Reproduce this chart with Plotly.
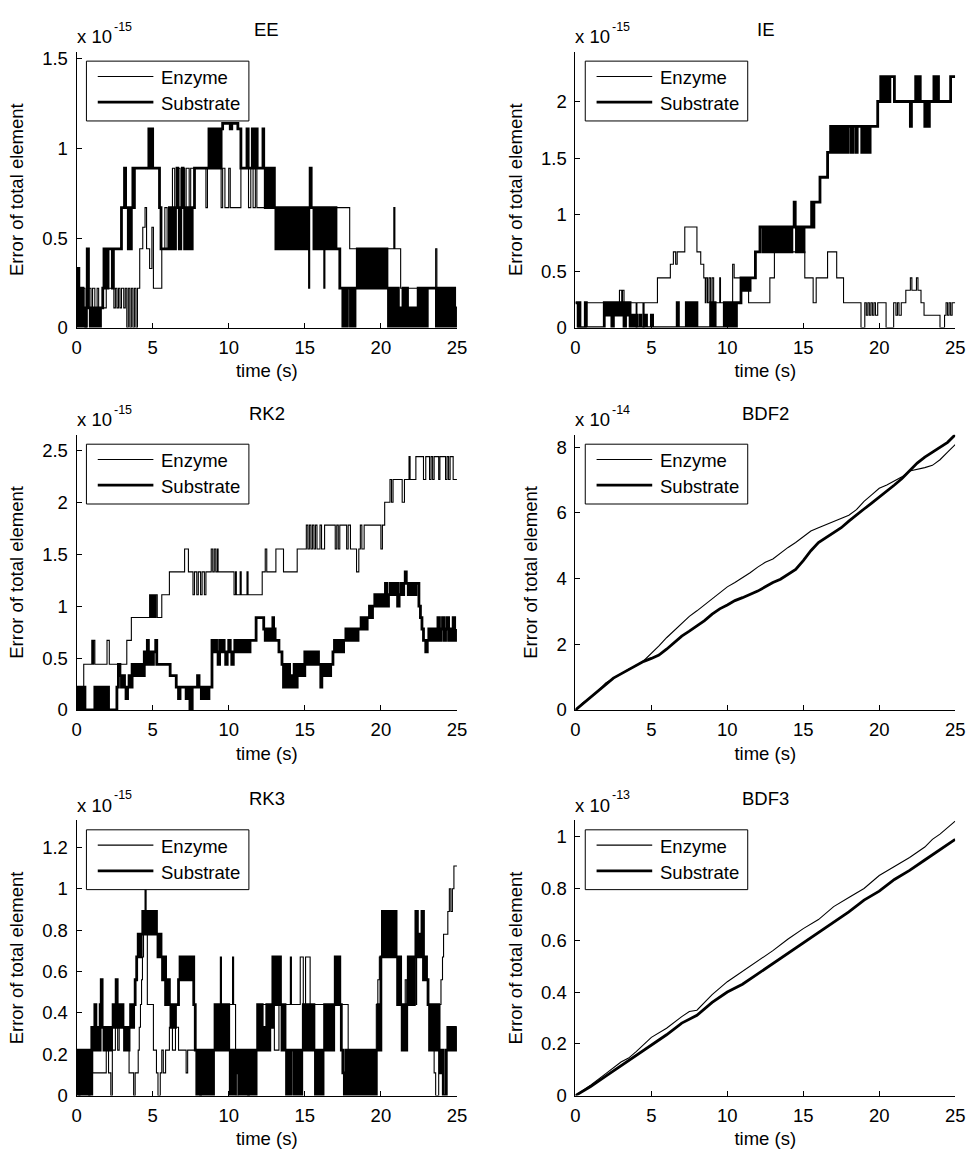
import plotly.graph_objects as go

W, H = 977, 1158

# Error of total element vs time, each series as (time s, value) step points.
# Values are in the units of the multiplier printed above each panel.

# ---------- EE (x 1e-15) ----------
EE_ENZYME = [
    (0.00, 0.22), (0.08, 0.33), (0.15, 0.22), (0.35, 0.11), (0.45, 0.22), (0.55, 0.00), (0.70, 0.11),
    (0.80, 0.22), (0.95, 0.11), (1.05, 0.22), (1.20, 0.11), (1.35, 0.22), (1.45, 0.11), (1.95, 0.22),
    (2.45, 0.11), (2.55, 0.22), (2.65, 0.11), (2.75, 0.22), (2.85, 0.11), (2.95, 0.22), (3.10, 0.11),
    (3.20, 0.22), (3.30, 0.00), (3.40, 0.22), (3.50, 0.00), (3.60, 0.22), (3.70, 0.00), (3.80, 0.22),
    (3.90, 0.00), (4.00, 0.22), (4.15, 0.44), (4.35, 0.56), (4.50, 0.67), (4.60, 0.44), (4.80, 0.33),
    (4.95, 0.56), (5.05, 0.22), (5.60, 0.44), (5.80, 0.67), (5.95, 0.44), (6.05, 0.67), (6.30, 0.89),
    (6.45, 0.67), (6.60, 0.89), (6.80, 0.67), (6.90, 0.89), (7.10, 0.67), (7.20, 0.89), (7.40, 0.67),
    (7.50, 0.89), (8.50, 0.67), (8.60, 0.89), (9.50, 0.67), (9.60, 0.89), (9.75, 0.67), (10.00, 0.89),
    (10.10, 0.67), (10.80, 0.89), (11.30, 0.67), (11.45, 0.89), (11.60, 0.67), (11.75, 0.89),
    (11.85, 0.67), (15.25, 0.22), (15.32, 0.67), (16.25, 0.22), (16.32, 0.67), (17.95, 0.44),
    (20.85, 0.67), (20.92, 0.44), (21.30, 0.22), (23.60, 0.44), (23.68, 0.22), (24.90, 0.11),
    (25.00, 0.11),
]
EE_SUBSTRATE = [
    (0.00, 0.22), (0.05, 0.00), (0.10, 0.33), (0.15, 0.00), (0.20, 0.22), (0.28, 0.00), (0.35, 0.22),
    (0.42, 0.11), (0.50, 0.00), (0.60, 0.11), (0.70, 0.44), (0.78, 0.11), (0.90, 0.00), (0.97, 0.11),
    (1.10, 0.00), (1.17, 0.11), (1.30, 0.00), (1.37, 0.11), (1.50, 0.00), (1.57, 0.11), (1.72, 0.22),
    (1.80, 0.44), (1.87, 0.22), (1.94, 0.44), (2.00, 0.22), (2.07, 0.44), (2.35, 0.22), (2.42, 0.44),
    (2.95, 0.67), (3.15, 0.89), (3.22, 0.67), (3.40, 0.44), (3.47, 0.67), (3.55, 0.44), (3.60, 0.67),
    (3.70, 0.89), (3.75, 0.67), (3.80, 0.89), (4.75, 1.11), (4.80, 0.89), (4.85, 1.11), (4.90, 0.89),
    (4.95, 1.11), (5.00, 0.89), (5.45, 0.67), (5.55, 0.44), (6.10, 0.67), (6.20, 0.44), (6.30, 0.67),
    (6.40, 0.44), (6.50, 0.67), (6.60, 0.89), (6.65, 0.67), (6.75, 0.44), (6.85, 0.67), (6.95, 0.89),
    (7.00, 0.67), (7.10, 0.44), (7.20, 0.67), (7.30, 0.44), (7.40, 0.67), (7.50, 0.44), (7.60, 0.67),
    (7.75, 0.89), (8.70, 1.11), (8.80, 0.89), (8.90, 1.11), (9.00, 0.89), (9.10, 1.11), (9.20, 0.89),
    (9.30, 1.11), (9.40, 0.89), (9.50, 1.11), (9.60, 1.14), (10.10, 1.11), (10.20, 1.14), (10.60, 1.11),
    (10.80, 0.89), (11.20, 1.11), (11.28, 0.89), (11.55, 1.11), (11.62, 0.89), (11.80, 1.11),
    (11.87, 0.89), (12.25, 1.11), (12.30, 0.89), (12.40, 0.67), (12.50, 0.89), (12.60, 0.67),
    (12.70, 0.89), (12.80, 0.67), (12.90, 0.89), (13.00, 0.67), (13.10, 0.44), (13.20, 0.67),
    (13.30, 0.44), (13.40, 0.67), (13.50, 0.44), (13.60, 0.67), (13.70, 0.44), (13.80, 0.67),
    (13.90, 0.44), (14.00, 0.67), (14.10, 0.44), (14.20, 0.67), (14.30, 0.44), (14.40, 0.67),
    (14.50, 0.44), (14.60, 0.67), (14.70, 0.44), (14.80, 0.67), (14.90, 0.44), (15.00, 0.67),
    (15.10, 0.44), (15.20, 0.67), (15.35, 0.89), (15.42, 0.67), (15.60, 0.44), (15.70, 0.67),
    (15.80, 0.44), (15.90, 0.67), (16.00, 0.44), (16.10, 0.67), (16.20, 0.44), (16.30, 0.67),
    (16.40, 0.44), (16.50, 0.67), (16.65, 0.44), (16.75, 0.67), (16.85, 0.44), (16.95, 0.67),
    (17.05, 0.44), (17.30, 0.22), (17.50, 0.00), (17.60, 0.22), (17.70, 0.00), (17.80, 0.22),
    (18.00, 0.00), (18.10, 0.22), (18.20, 0.00), (18.30, 0.22), (18.45, 0.44), (18.55, 0.22),
    (18.70, 0.44), (18.80, 0.22), (18.90, 0.44), (19.00, 0.22), (19.10, 0.44), (19.20, 0.22),
    (19.30, 0.44), (19.40, 0.22), (19.50, 0.44), (19.60, 0.22), (19.70, 0.44), (19.80, 0.22),
    (19.90, 0.44), (20.00, 0.22), (20.10, 0.44), (20.20, 0.22), (20.30, 0.44), (20.40, 0.22),
    (20.50, 0.00), (20.60, 0.22), (20.70, 0.00), (20.80, 0.22), (20.90, 0.00), (21.05, 0.22),
    (21.15, 0.00), (21.25, 0.11), (21.35, 0.00), (21.45, 0.22), (21.55, 0.00), (21.65, 0.22),
    (21.75, 0.00), (21.85, 0.11), (21.95, 0.00), (22.05, 0.11), (22.15, 0.00), (22.25, 0.11),
    (22.35, 0.00), (22.45, 0.22), (22.55, 0.00), (22.65, 0.22), (22.75, 0.00), (22.85, 0.22),
    (22.95, 0.00), (23.05, 0.22), (23.65, 0.00), (23.75, 0.22), (23.85, 0.00), (23.95, 0.22),
    (24.05, 0.00), (24.15, 0.22), (24.25, 0.00), (24.35, 0.22), (24.45, 0.00), (24.55, 0.22),
    (24.65, 0.00), (24.75, 0.22), (24.85, 0.00), (24.95, 0.11), (25.00, 0.11),
]

# ---------- IE (x 1e-15) ----------
IE_ENZYME = [
    (0.00, 0.22), (0.18, 0.00), (0.25, 0.22), (0.32, 0.00), (0.72, 0.22), (2.90, 0.33), (3.05, 0.22),
    (3.10, 0.33), (3.20, 0.22), (4.00, 0.00), (4.05, 0.22), (4.45, 0.00), (4.52, 0.22), (5.40, 0.44),
    (6.25, 0.56), (6.45, 0.67), (6.60, 0.56), (6.70, 0.67), (7.20, 0.89), (8.00, 0.67), (8.25, 0.56),
    (8.45, 0.44), (8.55, 0.22), (8.60, 0.44), (8.70, 0.22), (8.80, 0.44), (8.90, 0.22), (9.00, 0.44),
    (9.10, 0.22), (9.50, 0.44), (9.55, 0.22), (10.35, 0.56), (10.45, 0.44), (11.40, 0.22),
    (12.80, 0.44), (13.10, 0.67), (15.10, 0.44), (15.65, 0.22), (15.85, 0.44), (16.60, 0.67),
    (17.20, 0.44), (17.65, 0.22), (18.80, 0.00), (19.05, 0.22), (19.15, 0.11), (19.25, 0.22),
    (19.35, 0.11), (19.45, 0.22), (19.55, 0.11), (19.65, 0.22), (19.75, 0.11), (19.90, 0.22),
    (20.45, 0.00), (20.95, 0.22), (21.10, 0.11), (21.20, 0.22), (21.30, 0.11), (21.45, 0.22),
    (21.75, 0.33), (22.05, 0.44), (22.15, 0.33), (22.45, 0.44), (22.55, 0.33), (22.75, 0.22),
    (22.95, 0.11), (24.00, 0.00), (24.30, 0.11), (24.40, 0.22), (24.50, 0.11), (24.60, 0.22),
    (24.70, 0.11), (24.80, 0.22), (25.00, 0.22),
]
IE_SUBSTRATE = [
    (0.00, 0.22), (0.18, 0.00), (0.25, 0.22), (0.30, 0.00), (0.65, 0.22), (0.72, 0.00), (1.90, 0.22),
    (2.00, 0.11), (2.10, 0.22), (2.20, 0.11), (2.30, 0.22), (2.40, 0.00), (2.50, 0.22), (2.60, 0.11),
    (2.70, 0.22), (2.80, 0.11), (2.90, 0.22), (3.00, 0.11), (3.10, 0.22), (3.20, 0.00), (3.30, 0.22),
    (3.40, 0.11), (3.50, 0.22), (3.60, 0.00), (3.70, 0.11), (3.80, 0.00), (3.95, 0.11), (4.05, 0.00),
    (4.25, 0.11), (4.32, 0.00), (4.60, 0.11), (4.68, 0.00), (5.00, 0.11), (5.08, 0.00), (6.70, 0.22),
    (6.78, 0.00), (7.30, 0.22), (7.40, 0.00), (7.50, 0.22), (7.60, 0.00), (7.70, 0.22), (7.80, 0.00),
    (7.90, 0.22), (8.00, 0.00), (8.90, 0.22), (9.00, 0.00), (9.10, 0.22), (9.20, 0.00), (9.80, 0.22),
    (9.90, 0.00), (10.00, 0.22), (10.10, 0.00), (10.20, 0.22), (10.30, 0.00), (10.40, 0.22),
    (10.50, 0.00), (10.60, 0.22), (10.90, 0.44), (11.00, 0.33), (11.10, 0.44), (11.20, 0.33),
    (11.30, 0.44), (11.40, 0.33), (11.50, 0.44), (11.85, 0.67), (12.15, 0.89), (12.35, 0.67),
    (12.45, 0.89), (12.55, 0.67), (12.65, 0.89), (12.75, 0.67), (12.85, 0.89), (12.95, 0.67),
    (13.05, 0.89), (13.15, 0.67), (13.25, 0.89), (13.35, 0.67), (13.45, 0.89), (13.55, 0.67),
    (13.65, 0.89), (13.75, 0.67), (13.85, 0.89), (13.95, 0.67), (14.05, 0.89), (14.15, 0.67),
    (14.25, 0.89), (14.40, 1.11), (14.47, 0.89), (14.55, 0.67), (14.65, 0.89), (14.75, 0.67),
    (14.85, 0.89), (14.95, 0.67), (15.05, 0.89), (15.55, 1.11), (15.62, 0.89), (15.70, 1.11),
    (16.10, 1.33), (16.60, 1.55), (16.80, 1.78), (16.85, 1.55), (16.95, 1.78), (17.05, 1.55),
    (17.15, 1.78), (17.25, 1.55), (17.35, 1.78), (17.45, 1.55), (17.55, 1.78), (17.65, 1.55),
    (17.75, 1.78), (17.85, 1.55), (17.95, 1.78), (18.15, 1.55), (18.25, 1.78), (18.45, 1.55),
    (18.55, 1.78), (18.85, 1.55), (18.95, 1.78), (19.10, 1.55), (19.20, 1.78), (19.30, 1.55),
    (19.40, 1.78), (19.90, 2.00), (20.10, 2.22), (20.20, 2.00), (20.30, 2.22), (20.40, 2.00),
    (20.50, 2.22), (20.60, 2.00), (20.70, 2.22), (21.00, 2.00), (22.05, 1.78), (22.12, 2.00),
    (22.40, 2.22), (22.50, 2.00), (22.60, 2.22), (22.70, 2.00), (23.00, 1.78), (23.10, 2.00),
    (23.20, 1.78), (23.30, 2.00), (23.60, 2.22), (23.70, 2.00), (23.80, 2.22), (23.90, 2.00),
    (24.70, 2.22), (25.00, 2.22),
]

# ---------- RK2 (x 1e-15) ----------
RK2_ENZYME = [
    (0.00, 0.00), (0.47, 0.44), (1.00, 0.67), (1.07, 0.44), (1.12, 0.67), (1.20, 0.44), (2.00, 0.67),
    (2.15, 0.44), (3.30, 0.67), (3.60, 0.89), (4.80, 1.11), (4.87, 0.89), (4.94, 1.11), (5.01, 0.89),
    (5.08, 1.11), (5.15, 0.89), (5.22, 1.11), (5.30, 0.89), (5.60, 1.11), (6.10, 1.33), (7.10, 1.55),
    (7.35, 1.33), (7.65, 1.11), (7.75, 1.33), (7.90, 1.11), (8.00, 1.33), (8.15, 1.11), (8.25, 1.33),
    (8.40, 1.11), (8.50, 1.33), (8.85, 1.55), (8.95, 1.33), (9.05, 1.55), (9.15, 1.33), (9.25, 1.55),
    (9.30, 1.33), (10.35, 1.11), (10.45, 1.33), (10.50, 1.11), (10.75, 1.33), (10.82, 1.11),
    (11.20, 1.33), (11.27, 1.11), (12.20, 1.33), (12.40, 1.55), (12.50, 1.33), (13.10, 1.55),
    (13.60, 1.33), (14.50, 1.55), (15.10, 1.78), (15.20, 1.55), (15.30, 1.78), (15.40, 1.55),
    (15.50, 1.78), (15.60, 1.55), (15.70, 1.78), (15.80, 1.55), (16.00, 1.78), (16.10, 1.55),
    (16.30, 1.78), (17.00, 1.55), (17.10, 1.78), (17.20, 1.55), (17.30, 1.78), (17.75, 1.55),
    (17.85, 1.78), (18.00, 1.55), (18.40, 1.33), (18.55, 1.55), (18.65, 1.78), (18.75, 1.55),
    (18.90, 1.78), (20.00, 1.55), (20.10, 1.78), (20.25, 2.00), (20.60, 2.22), (20.70, 2.00),
    (20.80, 2.22), (21.40, 2.00), (21.55, 2.22), (21.85, 2.44), (21.92, 2.22), (22.30, 2.44),
    (22.80, 2.22), (22.95, 2.44), (23.20, 2.22), (23.30, 2.44), (23.40, 2.22), (23.50, 2.44),
    (23.80, 2.22), (23.88, 2.44), (24.25, 2.22), (24.35, 2.44), (24.45, 2.22), (24.55, 2.44),
    (24.75, 2.22), (25.00, 2.22),
]
RK2_SUBSTRATE = [
    (0.00, 0.22), (0.08, 0.00), (0.16, 0.22), (0.24, 0.00), (0.32, 0.22), (0.40, 0.00), (0.48, 0.22),
    (0.55, 0.00), (1.20, 0.22), (1.30, 0.00), (1.40, 0.22), (1.50, 0.00), (1.60, 0.22), (1.70, 0.00),
    (1.80, 0.22), (1.90, 0.00), (2.00, 0.22), (2.10, 0.00), (2.65, 0.22), (2.75, 0.44), (2.85, 0.33),
    (2.95, 0.22), (3.05, 0.33), (3.15, 0.22), (3.25, 0.11), (3.35, 0.22), (3.45, 0.33), (3.55, 0.22),
    (3.65, 0.44), (3.75, 0.33), (3.85, 0.44), (3.95, 0.33), (4.05, 0.44), (4.15, 0.33), (4.25, 0.44),
    (4.35, 0.33), (4.45, 0.56), (4.55, 0.44), (4.65, 0.67), (4.72, 0.44), (4.85, 0.56), (4.95, 0.44),
    (5.05, 0.56), (5.20, 0.67), (5.27, 0.44), (6.15, 0.33), (6.55, 0.22), (6.70, 0.11), (6.80, 0.22),
    (7.20, 0.11), (7.30, 0.22), (7.45, 0.00), (7.60, 0.22), (7.95, 0.33), (8.05, 0.22), (8.20, 0.11),
    (8.30, 0.22), (8.40, 0.11), (8.50, 0.22), (8.60, 0.11), (8.70, 0.22), (8.90, 0.67), (9.00, 0.56),
    (9.10, 0.67), (9.20, 0.56), (9.30, 0.44), (9.40, 0.67), (9.50, 0.56), (9.60, 0.67), (9.70, 0.56),
    (9.80, 0.44), (9.90, 0.56), (10.00, 0.67), (10.10, 0.56), (10.20, 0.44), (10.30, 0.56),
    (10.40, 0.67), (10.50, 0.56), (10.60, 0.67), (10.70, 0.56), (10.80, 0.67), (10.90, 0.56),
    (11.00, 0.67), (11.10, 0.56), (11.20, 0.67), (11.30, 0.56), (11.40, 0.67), (11.80, 0.89),
    (12.30, 0.78), (12.40, 0.67), (12.50, 0.78), (12.60, 0.67), (12.70, 0.78), (12.80, 0.67),
    (12.90, 0.89), (12.95, 0.78), (13.05, 0.67), (13.30, 0.56), (13.50, 0.44), (13.60, 0.22),
    (13.70, 0.44), (13.80, 0.22), (13.90, 0.44), (14.00, 0.22), (14.10, 0.33), (14.20, 0.22),
    (14.30, 0.44), (14.40, 0.22), (14.50, 0.44), (14.60, 0.33), (14.75, 0.44), (14.85, 0.33),
    (15.00, 0.56), (15.10, 0.44), (15.20, 0.56), (15.30, 0.44), (15.40, 0.56), (15.50, 0.44),
    (15.60, 0.56), (15.70, 0.44), (15.80, 0.56), (15.90, 0.44), (16.05, 0.22), (16.12, 0.44),
    (16.20, 0.33), (16.30, 0.44), (16.40, 0.33), (16.50, 0.44), (16.60, 0.33), (16.70, 0.44),
    (16.85, 0.56), (16.95, 0.67), (17.05, 0.56), (17.15, 0.67), (17.25, 0.56), (17.35, 0.67),
    (17.45, 0.56), (17.55, 0.67), (17.70, 0.78), (17.80, 0.67), (17.90, 0.78), (18.00, 0.67),
    (18.10, 0.78), (18.20, 0.67), (18.30, 0.78), (18.40, 0.67), (18.50, 0.78), (18.70, 0.89),
    (18.80, 0.78), (18.90, 0.89), (19.00, 0.78), (19.10, 0.89), (19.25, 1.00), (19.35, 0.89),
    (19.45, 1.00), (19.60, 1.11), (19.70, 1.00), (19.80, 1.11), (19.90, 1.00), (20.00, 1.11),
    (20.10, 1.00), (20.20, 1.11), (20.30, 1.22), (20.38, 1.00), (20.50, 1.11), (20.60, 1.22),
    (20.70, 1.11), (20.80, 1.22), (20.90, 1.11), (21.00, 1.22), (21.10, 1.00), (21.20, 1.11),
    (21.30, 1.22), (21.40, 1.11), (21.50, 1.22), (21.60, 1.33), (21.67, 1.22), (21.80, 1.11),
    (21.90, 1.22), (22.00, 1.11), (22.10, 1.22), (22.20, 1.11), (22.30, 1.22), (22.50, 1.00),
    (22.60, 0.89), (22.70, 0.78), (22.80, 0.67), (22.95, 0.56), (23.05, 0.67), (23.15, 0.78),
    (23.25, 0.67), (23.35, 0.78), (23.45, 0.67), (23.55, 0.78), (23.65, 0.67), (23.75, 0.89),
    (23.85, 0.67), (23.95, 0.78), (24.05, 0.89), (24.15, 0.67), (24.25, 0.78), (24.35, 0.89),
    (24.45, 0.67), (24.55, 0.78), (24.65, 0.67), (24.75, 0.89), (24.85, 0.67), (25.00, 0.78),
]

# ---------- RK3 (x 1e-15) ----------
RK3_ENZYME = [
    (0.00, 0.22), (0.15, 0.00), (0.22, 0.22), (0.45, 0.11), (0.52, 0.22), (0.80, 0.00), (0.88, 0.22),
    (1.05, 0.11), (1.95, 0.22), (2.10, 0.11), (2.25, 0.00), (2.35, 0.22), (2.55, 0.33), (2.70, 0.22),
    (2.80, 0.33), (3.20, 0.22), (3.45, 0.11), (3.75, 0.00), (3.85, 0.11), (4.05, 0.22), (4.12, 0.33),
    (4.20, 0.44), (4.27, 0.56), (4.33, 0.67), (4.40, 0.78), (4.50, 1.00), (4.57, 0.78), (4.65, 0.44),
    (5.05, 0.22), (5.25, 0.11), (5.35, 0.00), (5.50, 0.11), (5.60, 0.22), (5.70, 0.11), (5.85, 0.22),
    (6.10, 0.33), (6.30, 0.22), (6.50, 0.33), (6.70, 0.22), (7.20, 0.11), (7.30, 0.22), (8.10, 0.00),
    (8.20, 0.22), (9.10, 0.44), (9.45, 0.67), (9.52, 0.44), (10.25, 0.67), (10.32, 0.44),
    (10.45, 0.22), (10.50, 0.00), (10.60, 0.22), (11.25, 0.00), (11.35, 0.22), (11.95, 0.44),
    (13.00, 0.22), (13.30, 0.44), (14.05, 0.67), (14.12, 0.44), (14.70, 0.67), (14.90, 0.44),
    (15.05, 0.67), (15.35, 0.44), (16.55, 0.22), (16.70, 0.44), (17.85, 0.22), (19.70, 0.44),
    (19.80, 0.56), (19.90, 0.67), (21.10, 0.44), (21.60, 0.56), (21.70, 0.44), (21.90, 0.67),
    (22.30, 0.44), (22.35, 0.67), (22.90, 0.56), (23.10, 0.44), (23.30, 0.33), (23.40, 0.22),
    (23.50, 0.11), (23.60, 0.00), (23.80, 0.22), (23.88, 0.44), (23.95, 0.56), (24.05, 0.67),
    (24.12, 0.78), (24.40, 0.89), (24.50, 1.00), (24.60, 0.89), (24.70, 1.00), (24.80, 1.11),
    (25.00, 1.11),
]
RK3_SUBSTRATE = [
    (0.00, 0.22), (0.10, 0.00), (0.20, 0.22), (0.30, 0.00), (0.40, 0.22), (0.50, 0.00), (0.60, 0.22),
    (0.70, 0.00), (0.80, 0.22), (0.90, 0.00), (1.00, 0.33), (1.10, 0.22), (1.20, 0.44), (1.27, 0.22),
    (1.35, 0.33), (1.45, 0.22), (1.55, 0.44), (1.62, 0.56), (1.68, 0.33), (1.80, 0.22), (1.90, 0.33),
    (2.00, 0.22), (2.10, 0.33), (2.20, 0.22), (2.30, 0.33), (2.40, 0.44), (2.50, 0.33), (2.60, 0.56),
    (2.67, 0.33), (2.75, 0.44), (2.85, 0.33), (2.95, 0.44), (3.05, 0.33), (3.15, 0.22), (3.25, 0.33),
    (3.35, 0.22), (3.45, 0.33), (3.55, 0.44), (3.65, 0.33), (3.75, 0.44), (3.85, 0.56), (3.95, 0.67),
    (4.05, 0.78), (4.15, 0.67), (4.25, 0.78), (4.35, 0.89), (4.45, 0.78), (4.55, 0.89), (4.65, 0.78),
    (4.75, 0.89), (4.85, 0.78), (4.95, 0.89), (5.05, 0.78), (5.15, 0.89), (5.25, 0.78), (5.35, 0.67),
    (5.45, 0.78), (5.55, 0.67), (5.65, 0.56), (5.75, 0.67), (5.85, 0.44), (5.95, 0.56), (6.10, 0.44),
    (6.20, 0.33), (6.30, 0.44), (6.40, 0.33), (6.50, 0.44), (6.70, 0.56), (6.80, 0.67), (6.90, 0.56),
    (7.00, 0.67), (7.10, 0.56), (7.20, 0.67), (7.30, 0.56), (7.40, 0.67), (7.50, 0.56), (7.60, 0.67),
    (7.70, 0.44), (7.80, 0.22), (7.90, 0.00), (8.00, 0.22), (8.10, 0.00), (8.20, 0.22), (8.30, 0.00),
    (8.40, 0.22), (8.50, 0.00), (8.60, 0.22), (8.70, 0.00), (8.80, 0.22), (8.90, 0.00), (9.00, 0.22),
    (9.10, 0.44), (9.20, 0.22), (9.30, 0.44), (9.40, 0.22), (9.50, 0.44), (9.60, 0.22), (9.70, 0.44),
    (9.80, 0.22), (9.90, 0.44), (10.00, 0.22), (10.10, 0.00), (10.20, 0.22), (10.30, 0.00),
    (10.40, 0.22), (10.50, 0.11), (10.60, 0.22), (10.70, 0.00), (10.80, 0.22), (10.90, 0.00),
    (11.00, 0.22), (11.10, 0.00), (11.20, 0.22), (11.30, 0.00), (11.40, 0.22), (11.50, 0.00),
    (11.60, 0.22), (11.70, 0.00), (11.80, 0.22), (11.90, 0.44), (12.00, 0.22), (12.10, 0.44),
    (12.20, 0.22), (12.30, 0.33), (12.40, 0.22), (12.50, 0.44), (12.60, 0.22), (12.70, 0.44),
    (12.80, 0.33), (12.90, 0.67), (13.00, 0.44), (13.10, 0.67), (13.20, 0.44), (13.30, 0.67),
    (13.40, 0.44), (13.50, 0.22), (13.60, 0.44), (13.70, 0.22), (13.80, 0.00), (13.90, 0.22),
    (14.00, 0.00), (14.10, 0.22), (14.30, 0.00), (14.40, 0.22), (14.50, 0.00), (14.60, 0.22),
    (14.70, 0.00), (14.80, 0.22), (14.90, 0.44), (15.00, 0.22), (15.10, 0.44), (15.20, 0.22),
    (15.30, 0.44), (15.40, 0.22), (15.50, 0.44), (15.60, 0.22), (15.70, 0.00), (15.80, 0.22),
    (15.90, 0.00), (16.00, 0.22), (16.10, 0.00), (16.20, 0.22), (16.30, 0.44), (16.40, 0.22),
    (16.50, 0.44), (16.60, 0.22), (16.70, 0.44), (16.80, 0.22), (16.90, 0.44), (17.00, 0.67),
    (17.10, 0.44), (17.20, 0.67), (17.30, 0.44), (17.40, 0.22), (17.50, 0.11), (17.60, 0.00),
    (17.70, 0.22), (17.80, 0.00), (17.90, 0.22), (18.00, 0.00), (18.10, 0.22), (18.20, 0.00),
    (18.30, 0.22), (18.40, 0.00), (18.50, 0.22), (18.60, 0.00), (18.70, 0.22), (18.80, 0.00),
    (18.90, 0.22), (19.00, 0.00), (19.10, 0.22), (19.20, 0.00), (19.30, 0.22), (19.40, 0.00),
    (19.50, 0.22), (19.60, 0.00), (19.70, 0.22), (19.80, 0.44), (19.90, 0.22), (20.00, 0.67),
    (20.10, 0.89), (20.20, 0.67), (20.30, 0.89), (20.40, 0.67), (20.50, 0.89), (20.60, 0.67),
    (20.70, 0.89), (20.80, 0.67), (20.90, 0.89), (21.00, 0.67), (21.10, 0.44), (21.20, 0.67),
    (21.30, 0.44), (21.40, 0.22), (21.50, 0.44), (21.60, 0.22), (21.70, 0.44), (21.80, 0.67),
    (21.90, 0.44), (22.00, 0.67), (22.10, 0.44), (22.20, 0.67), (22.30, 0.89), (22.40, 0.67),
    (22.50, 0.78), (22.60, 0.67), (22.70, 0.89), (22.80, 0.56), (22.90, 0.67), (23.00, 0.56),
    (23.10, 0.44), (23.20, 0.22), (23.30, 0.44), (23.40, 0.22), (23.50, 0.44), (23.60, 0.22),
    (23.70, 0.44), (23.80, 0.22), (23.90, 0.11), (24.00, 0.22), (24.10, 0.00), (24.30, 0.22),
    (24.40, 0.33), (24.50, 0.22), (24.60, 0.33), (24.70, 0.22), (24.80, 0.33), (24.90, 0.22),
    (25.00, 0.33),
]

# ---------- BDF2 (x 1e-14) and BDF3 (x 1e-13): smooth growth ----------
BDF2_TIME = [0, 0.5, 1, 1.5, 2, 2.5, 3, 3.5, 4, 4.5, 5, 5.5, 6, 6.5, 7, 7.5, 8, 8.5, 9, 9.5, 10,
             10.5, 11, 11.5, 12, 12.5, 13, 13.5, 14, 14.5, 15, 15.5, 16, 16.5, 17, 17.5, 18, 18.5,
             19, 19.5, 20, 20.5, 21, 21.5, 22, 22.5, 23, 23.5, 24, 24.5, 25]
BDF2_ENZYME = [0, 0.22, 0.38, 0.58, 0.82, 0.97, 1.10, 1.24, 1.35, 1.50, 1.72, 1.95, 2.20, 2.42, 2.62,
               2.85, 3.02, 3.20, 3.37, 3.55, 3.75, 3.88, 4.02, 4.18, 4.35, 4.50, 4.60, 4.78, 4.95,
               5.10, 5.28, 5.45, 5.55, 5.65, 5.75, 5.85, 5.93, 6.10, 6.35, 6.55, 6.75, 6.85, 6.98,
               7.10, 7.28, 7.32, 7.38, 7.45, 7.62, 7.85, 8.08]
BDF2_SUBSTRATE = [0, 0.20, 0.38, 0.60, 0.80, 0.97, 1.10, 1.22, 1.35, 1.48, 1.57, 1.67, 1.85, 2.05,
                  2.25, 2.40, 2.55, 2.72, 2.92, 3.08, 3.20, 3.33, 3.42, 3.52, 3.62, 3.75, 3.88, 3.98,
                  4.12, 4.28, 4.55, 4.85, 5.10, 5.25, 5.42, 5.55, 5.75, 5.95, 6.12, 6.30, 6.48, 6.65,
                  6.85, 7.05, 7.30, 7.52, 7.70, 7.85, 7.98, 8.15, 8.38]

BDF3_TIME = [0, 1, 2, 3, 3.5, 4, 5, 6, 7, 7.5, 8, 9, 10, 11, 12, 13, 14, 15, 16, 17, 18, 19, 20,
             21, 22, 23, 23.5, 24, 25]
BDF3_ENZYME = [0, 0.040, 0.085, 0.130, 0.145, 0.170, 0.225, 0.260, 0.305, 0.325, 0.330, 0.390,
               0.440, 0.480, 0.520, 0.560, 0.605, 0.645, 0.680, 0.730, 0.765, 0.800, 0.850, 0.885,
               0.920, 0.960, 0.990, 1.010, 1.060]
BDF3_SUBSTRATE = [0, 0.035, 0.075, 0.115, 0.135, 0.155, 0.195, 0.235, 0.280, 0.295, 0.310, 0.360,
                  0.400, 0.430, 0.470, 0.510, 0.550, 0.590, 0.630, 0.670, 0.710, 0.755, 0.790,
                  0.835, 0.870, 0.910, 0.930, 0.950, 0.990]

# Axis ticks and limits per panel
X_TICKS = [0, 5, 10, 15, 20, 25]
PANELS = [
    # title, exponent, y top, y ticks, column, row
    ("EE", "-15", 1.54, [0, 0.5, 1, 1.5], 0, 0),
    ("IE", "-15", 2.44, [0, 0.5, 1, 1.5, 2], 1, 0),
    ("RK2", "-15", 2.65, [0, 0.5, 1, 1.5, 2, 2.5], 0, 1),
    ("BDF2", "-14", 8.38, [0, 2, 4, 6, 8], 1, 1),
    ("RK3", "-15", 1.33, [0, 0.2, 0.4, 0.6, 0.8, 1, 1.2], 0, 2),
    ("BDF3", "-13", 1.063, [0, 0.2, 0.4, 0.6, 0.8, 1], 1, 2),
]


def split(pairs):
    return [p[0] for p in pairs], [p[1] for p in pairs]


SERIES = {
    "EE": (split(EE_ENZYME), split(EE_SUBSTRATE), "hv"),
    "IE": (split(IE_ENZYME), split(IE_SUBSTRATE), "hv"),
    "RK2": (split(RK2_ENZYME), split(RK2_SUBSTRATE), "hv"),
    "RK3": (split(RK3_ENZYME), split(RK3_SUBSTRATE), "hv"),
    "BDF2": ((BDF2_TIME, BDF2_ENZYME), (BDF2_TIME, BDF2_SUBSTRATE), "linear"),
    "BDF3": ((BDF3_TIME, BDF3_ENZYME), (BDF3_TIME, BDF3_SUBSTRATE), "linear"),
}

# Layout geometry in pixels
COL_X = [(72.7, 459.0), (579.3, 965.0)]
ROW_Y = [(49.3, 328.3), (436.7, 715.0), (826.7, 1105.0)]
FONT = "Arial, Liberation Sans, Helvetica, sans-serif"
FS = 18.5
FS_EXP = 12.5
THIN, THICK = 1.1, 2.8
TXT = dict(family=FONT, size=FS, color="black")


def px(xp):
    return xp / W


def py(yp):
    return 1 - yp / H


fig = go.Figure()
layout = dict(
    width=W, height=H, margin=dict(l=0, r=0, t=0, b=0),
    paper_bgcolor="white", plot_bgcolor="white", showlegend=False,
    font=TXT,
)
annotations, shapes = [], []

for i, (title, exp, ytop, yticks, col, row) in enumerate(PANELS):
    n = "" if i == 0 else str(i + 1)
    x0, x1 = COL_X[col]
    top, bottom = ROW_Y[row]
    axis_common = dict(
        showline=True, linecolor="black", linewidth=1, mirror=False,
        ticks="inside", ticklen=5, tickwidth=1, tickcolor="black",
        showgrid=False, zeroline=False, tickfont=TXT,
    )
    layout["xaxis" + n] = dict(
        axis_common, domain=[px(x0), px(x1)], range=[0, 25], anchor="y" + n,
        tickvals=X_TICKS, ticktext=[str(v) for v in X_TICKS], ticklabelstandoff=3,
        title=dict(text="time (s)", standoff=7, font=TXT),
    )
    layout["yaxis" + n] = dict(
        axis_common, domain=[py(bottom), py(top)], range=[0, ytop], anchor="x" + n,
        tickvals=yticks, ticktext=[f"{v:g}" for v in yticks], ticklabelstandoff=4,
        title=dict(text="Error of total element", standoff=13, font=TXT),
    )

    (te, ve), (ts, vs), shape = SERIES[title]
    fig.add_trace(go.Scatter(x=te, y=ve, mode="lines", name="Enzyme",
                             line=dict(color="black", width=THIN, shape=shape),
                             xaxis="x" + n, yaxis="y" + n))
    fig.add_trace(go.Scatter(x=ts, y=vs, mode="lines", name="Substrate",
                             line=dict(color="black", width=THICK, shape=shape),
                             xaxis="x" + n, yaxis="y" + n))

    # panel title and axis multiplier (base and exponent as separate texts)
    annotations.append(dict(text=title, x=px((x0 + x1) / 2), y=py(top - 22), xref="paper", yref="paper",
                            showarrow=False, xanchor="center", yanchor="middle", font=TXT))
    annotations.append(dict(text="x 10", x=px(x0 - 2), y=py(top - 15.5), xref="paper",
                            yref="paper", showarrow=False, xanchor="left", yanchor="middle", font=TXT))
    annotations.append(dict(text=exp, x=px(x0 + 35.5), y=py(top - 25.5), xref="paper",
                            yref="paper", showarrow=False, xanchor="left", yanchor="middle",
                            font=dict(family=FONT, size=FS_EXP, color="black")))

    # legend box
    lx0, lx1 = x0 + 10, x0 + 175
    ly0, ly1 = top + 9.5, top + 70
    shapes.append(dict(type="rect", xref="paper", yref="paper", x0=px(lx0), x1=px(lx1),
                       y0=py(ly1), y1=py(ly0), line=dict(color="black", width=1), fillcolor="white",
                       layer="above"))
    for k, (name, wdt) in enumerate([("Enzyme", THIN), ("Substrate", THICK)]):
        yl = top + 25 + 26 * k
        shapes.append(dict(type="line", xref="paper", yref="paper", x0=px(x0 + 21.5), x1=px(x0 + 78),
                           y0=py(yl), y1=py(yl), line=dict(color="black", width=wdt), layer="above"))
        annotations.append(dict(text=name, x=px(x0 + 84), y=py(yl + 1.5), xref="paper", yref="paper",
                                showarrow=False, xanchor="left", yanchor="middle", font=TXT))

layout["annotations"] = annotations
layout["shapes"] = shapes
fig.update_layout(**layout)
fig.write_html("out.html")
